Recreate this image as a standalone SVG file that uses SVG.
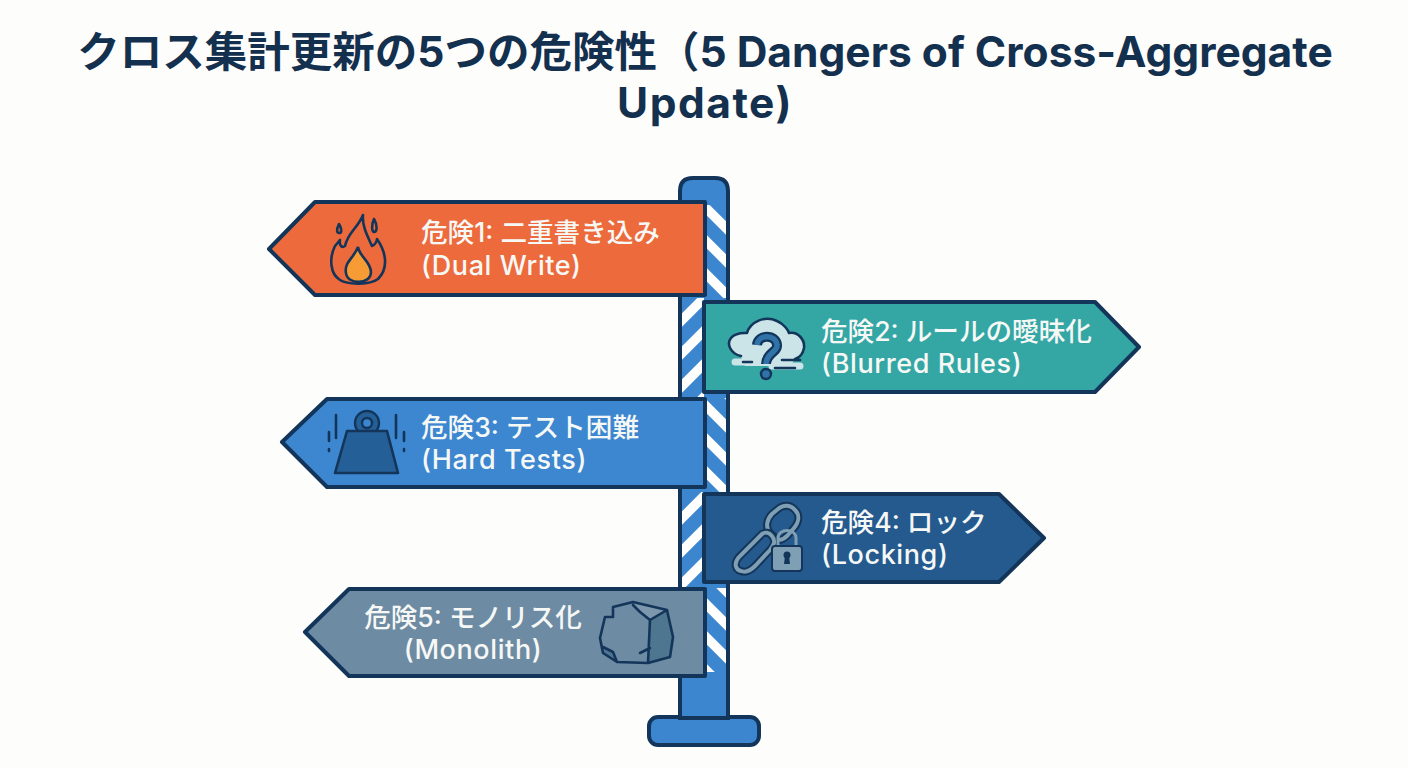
<svg xmlns="http://www.w3.org/2000/svg" width="1408" height="768" viewBox="0 0 1408 768">
<defs>
<style>
text{font-family:"Inter","Noto Sans CJK JP","Noto Sans",sans-serif}
.t{font-size:42.5px;font-weight:700;fill:#14304f;text-anchor:middle}
.l{font-size:26.6px;font-weight:500;fill:#f6f8f6}
.e{font-size:27px;letter-spacing:.6px;font-weight:500}
.m{text-anchor:middle}
.sign{stroke:#14355a;stroke-width:4;stroke-linejoin:round}
.ic{fill:none;stroke:#14355a;stroke-width:2.6;stroke-linecap:round;stroke-linejoin:round}
</style>
<pattern id="sr" width="20" height="33" patternUnits="userSpaceOnUse" patternTransform="translate(706 208)">
<rect width="20" height="33" fill="#3b86cf"/>
<path d="M-10,-10 30,30 M-10,23 30,63 M-10,-43 30,-3" stroke="#fff" stroke-width="9.5"/>
</pattern>
<pattern id="sl" width="22" height="33" patternUnits="userSpaceOnUse" patternTransform="translate(682 298)">
<rect width="22" height="33" fill="#3b86cf"/>
<path d="M-8,30 32,-10 M-8,63 32,23 M-8,-3 32,-43" stroke="#fff" stroke-width="9.5"/>
</pattern>
</defs>
<rect width="1408" height="768" fill="#fdfdfb"/>
<g id="title">
<text class="t" x="705" y="67">クロス集計更新の5つの危険性（5 Dangers of Cross-Aggregate</text>
<text class="t" x="705" y="118" style="letter-spacing:1.5px">Update)</text>
</g>
<g id="post">
<rect x="649" y="717" width="110" height="28" rx="9" fill="#3b86cf" stroke="#14355a" stroke-width="4"/>
<path d="M680,718V191Q680,178 693,178H715Q728,178 728,191V718Z" fill="#3b86cf" stroke="#14355a" stroke-width="4"/>
<rect x="706" y="205" width="20" height="93" fill="url(#sr)"/>
<rect x="682" y="298" width="22" height="100" fill="url(#sl)"/>
<rect x="706" y="398" width="20" height="94" fill="url(#sr)"/>
<rect x="682" y="492" width="22" height="96" fill="url(#sl)"/>
<rect x="706" y="588" width="20" height="84" fill="url(#sr)"/>
</g>
<g id="danger1">
<polygon class="sign" fill="#ec6a3c" points="269,249 315,202 705,202 705,295 315,295"/>
<path class="ic" d="M340,280C330,274 329,258 335,246L340,240C339,246 342,248 345,246C348,232 358,228 363,215C362,226 367,235 372,246C375,245 377,241 377,239C386,252 389,268 378,279C370,285 348,285 340,280Z"/>
<path d="M346,273C344,262 354,258 358,247C359,256 371,262 371,272C371,285 347,285 346,273Z" fill="#f79b35" stroke="#14355a" stroke-width="2.6"/>
<path class="ic" d="M339,224C336,230 337,233 339,233C342,233 342,229 339,224ZM374,219C371,225 372,232 374,232C377,232 378,226 374,219Z"/>
<text class="l" x="421" y="242">危険1: 二重書き込み</text>
<text class="l e" x="421" y="275">(Dual Write)</text>
</g>
<g id="danger2">
<polygon class="sign" fill="#34a6a4" points="704,302 1095,302 1139,347 1095,392 704,392"/>
<path d="M741,357C731,354 726,344 731,338C736,332 744,333 747,333C750,322 765,315 777,321C784,324 788,330 789,333C798,331 805,340 804,348C803,354 799,358 795,359L790,366H745Z" fill="#cbe4e8"/>
<path d="M735,362H755M772,366H800" stroke="#cbe4e8" stroke-width="7" stroke-linecap="round"/>
<path class="ic" d="M741,356C731,354 726,344 731,338C736,332 744,333 747,333C750,322 765,315 777,321C784,324 788,330 789,333C798,331 805,340 804,348C803,354 799,358 795,359M743,362H752M775,368H795M782,360H800"/>
<path d="M757,345C758,334 776,334 777,345C778,352 766,353 766,364" fill="none" stroke="#14355a" stroke-width="10"/>
<path d="M757,345C758,334 776,334 777,345C778,352 766,353 766,364" fill="none" stroke="#2f73a8" stroke-width="5.5"/>
<circle cx="766" cy="374" r="5" fill="#2f73a8" stroke="#14355a" stroke-width="2.4"/>
<text class="l" x="821" y="341">危険2: ルールの曖昧化</text>
<text class="l e" x="821" y="373">(Blurred Rules)</text>
</g>
<g id="danger3">
<polygon class="sign" fill="#3c87d0" points="282,442 327,399 705,399 705,487 327,487"/>
<circle cx="367" cy="423" r="12" fill="#255f97" stroke="#14355a" stroke-width="2.4"/>
<circle cx="367" cy="423" r="5" fill="#3c87d0" stroke="#14355a" stroke-width="2.4"/>
<path d="M335,473L347,431H387L398,473Z" fill="#255f97" stroke="#14355a" stroke-width="2.6" stroke-linejoin="round"/>
<path class="ic" d="M336,415V438M396,415V438M329,432V441M404,432V441M329,449V451M404,449V451"/>
<text class="l" x="421" y="437">危険3: テスト困難</text>
<text class="l e" x="421" y="469">(Hard Tests)</text>
</g>
<g id="danger4">
<polygon class="sign" fill="#255a8e" points="704,494 999,494 1044,538 999,582 704,582"/>
<path d="M777,539L770,533C765,527 767,519 772,514L778,509C784,504 791,505 795,510C800,515 799,522 794,528L788,535C784,539 780,541 777,539Z" fill="none" stroke="#14355a" stroke-width="8"/>
<path d="M777,539L770,533C765,527 767,519 772,514L778,509C784,504 791,505 795,510C800,515 799,522 794,528L788,535C784,539 780,541 777,539Z" fill="none" stroke="#7f9fb4" stroke-width="4"/>
<path d="M762,534L739,557C733,564 736,570 741,571C746,573 751,570 755,566L770,550C774,545 776,541 772,536C769,532 765,532 762,534Z" fill="none" stroke="#14355a" stroke-width="8"/>
<path d="M762,534L739,557C733,564 736,570 741,571C746,573 751,570 755,566L770,550C774,545 776,541 772,536C769,532 765,532 762,534Z" fill="none" stroke="#7f9fb4" stroke-width="4"/>
<path d="M778,546V538C778,528 796,528 796,538V546" fill="none" stroke="#7f9fb4" stroke-width="3"/>
<rect x="772" y="546" width="30" height="25" rx="3" fill="#7f9fb4" stroke="#14355a" stroke-width="2"/>
<circle cx="787" cy="555" r="3.5" fill="#14355a"/>
<path d="M785,556H789L790,564H784Z" fill="#14355a"/>
<text class="l" x="821" y="532">危険4: ロック</text>
<text class="l e" x="821" y="564">(Locking)</text>
</g>
<g id="danger5">
<polygon class="sign" fill="#6d8ba3" points="305,632 349,589 705,589 705,676 349,676"/>
<path d="M650,620L667,610L673,637L670,657L648,663Z" fill="#4f7690"/>
<path d="M603,647L613,652L617,662L603,653Z" fill="#4f7690"/>
<path d="M633,604L667,610L650,620Z" fill="#7d98ad"/>
<path class="ic" d="M613,607L633,602L667,610L673,637L670,657L648,663L617,662L603,653L600,638L605,617L613,617ZM650,620L667,610M650,620L648,663M650,620L640,612M633,605L640,612M603,647L613,652L617,662M640,653L650,648"/>
<text class="l m" x="473" y="627">危険5: モノリス化</text>
<text class="l e m" x="473" y="659">(Monolith)</text>
</g>
</svg>
